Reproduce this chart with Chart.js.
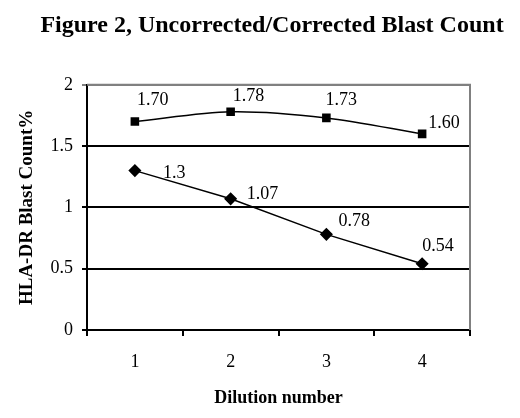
<!DOCTYPE html>
<html>
<head>
<meta charset="utf-8">
<script src="https://cdn.jsdelivr.net/npm/chart.js@4"></script>
<style>
  html, body { margin: 0; padding: 0; background: #fff; }
  #wrap { width: 520px; height: 418px; }
</style>
</head>
<body>
<div id="wrap"><canvas id="blastChart"></canvas></div>
<script>
const dilutions = ["1", "2", "3", "4"];
const uncorrected = [1.70, 1.78, 1.73, 1.60];
const corrected = [1.3, 1.07, 0.78, 0.54];
const uncorrectedLabels = ["1.70", "1.78", "1.73", "1.60"];
const correctedLabels = ["1.3", "1.07", "0.78", "0.54"];

// label nudges (px) relative to each point
const labelOffsets = [
    [[2, -21], [2, -16], [-1, -18], [6, -11]],
    [[28, 3], [16, -5], [12, -13], [0, -18]],
];

const serif = "'Liberation Serif', 'Times New Roman', serif";

// grey frame on top and right of the plot area
const plotFrame = {
    id: "plotFrame",
    beforeDatasetsDraw(chart) {
        const { ctx, chartArea: a } = chart;
        ctx.save();
        ctx.strokeStyle = "#808080";
        ctx.lineWidth = 2;
        ctx.beginPath();
        ctx.moveTo(a.left, a.top);
        ctx.lineTo(a.right, a.top);
        ctx.lineTo(a.right, a.bottom);
        ctx.stroke();
        ctx.restore();
    },
};

const pointLabels = {
    id: "pointLabels",
    afterDatasetsDraw(chart) {
        const ctx = chart.ctx;
        ctx.save();
        ctx.font = "18px " + serif;
        ctx.fillStyle = "#000";
        ctx.textAlign = "left";
        ctx.textBaseline = "middle";
        chart.data.datasets.forEach((ds, i) => {
            chart.getDatasetMeta(i).data.forEach((pt, j) => {
                const off = labelOffsets[i][j];
                ctx.fillText(ds.labelsText[j], pt.x + off[0], pt.y + off[1]);
            });
        });
        ctx.restore();
    },
};

new Chart(document.getElementById("blastChart"), {
    type: "line",
    data: {
        labels: dilutions,
        datasets: [
            {
                label: "Uncorrected",
                data: uncorrected,
                labelsText: uncorrectedLabels,
                borderColor: "#000",
                backgroundColor: "#000",
                borderWidth: 1.5,
                pointStyle: "rect",
                pointRadius: 5,
                tension: 0.3,
            },
            {
                label: "Corrected",
                data: corrected,
                labelsText: correctedLabels,
                borderColor: "#000",
                backgroundColor: "#000",
                borderWidth: 1.5,
                pointStyle: "rectRot",
                pointRadius: 5.5,
                tension: 0,
            },
        ],
    },
    options: {
        responsive: true,
        maintainAspectRatio: false,
        animation: false,
        layout: { padding: { left: 24, right: 0, top: 0, bottom: 0 } },
        plugins: {
            legend: { display: false },
            tooltip: { enabled: false },
            title: {
                display: true,
                text: "Figure 2, Uncorrected/Corrected Blast Count",
                color: "#000",
                font: { family: serif, size: 24, weight: "bold" },
                padding: { top: 11, bottom: 45 },
            },
        },
        scales: {
            x: {
                offset: true,
                grid: { offset: true, drawOnChartArea: false, tickLength: 6, color: "#000", lineWidth: 2 },
                border: { color: "#000", width: 2 },
                ticks: { color: "#000", font: { family: serif, size: 18 }, padding: 15 },
                title: {
                    display: true,
                    text: "Dilution number",
                    color: "#000",
                    font: { family: serif, size: 18, weight: "bold" },
                    padding: { top: 0, bottom: 9 },
                },
                afterFit: (scale) => { scale.height = 88; },
            },
            y: {
                min: 0,
                max: 2,
                ticks: {
                    stepSize: 0.5,
                    color: "#000",
                    font: { family: serif, size: 18 },
                    padding: 9,
                    callback: (v) => String(v),
                },
                grid: {
                    color: (c) => (c.tick && c.tick.value === 2 ? "#808080" : "#000"),
                    lineWidth: 2,
                    tickLength: 5,
                },
                border: { color: "#000", width: 2 },
                title: {
                    display: true,
                    text: "HLA-DR Blast Count%",
                    color: "#000",
                    font: { family: serif, size: 19, weight: "bold", lineHeight: 1 },
                    padding: { top: -6, bottom: 0 },
                },
                afterFit: (scale) => { scale.width = 63; },
            },
            // empty right-hand spacer so the title sits as in the original
            y2: {
                position: "right",
                min: 0,
                max: 2,
                ticks: { display: false },
                grid: { drawOnChartArea: false, drawTicks: false },
                border: { display: false },
                afterFit: (scale) => { scale.width = 50; },
            },
        },
    },
    plugins: [plotFrame, pointLabels],
});
</script>
</body>
</html>
